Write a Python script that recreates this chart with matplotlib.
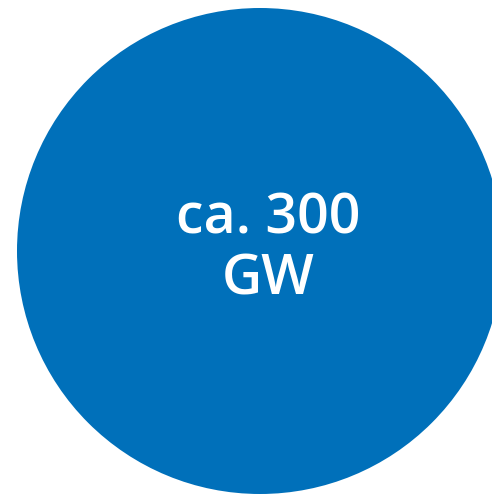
import matplotlib.pyplot as plt
from matplotlib.patches import Circle

# data
capacity = 300
unit = "GW"
label = "ca. %d\n%s" % (capacity, unit)

fig = plt.figure(figsize=(4.92, 4.96), dpi=100)
ax = fig.add_axes([0, 0, 1, 1])
ax.set_xlim(0, 492)
ax.set_ylim(496, 0)
ax.axis('off')

circ = Circle((260, 251), 243, color='#0070BA', lw=0)
ax.add_patch(circ)
ax.text(268, 250, label, color='white', fontsize=40, fontweight='semibold',
        family=['Open Sans', 'DejaVu Sans'],
        ha='center', va='center', linespacing=1.13)

fig.savefig('out.png', dpi=100)
